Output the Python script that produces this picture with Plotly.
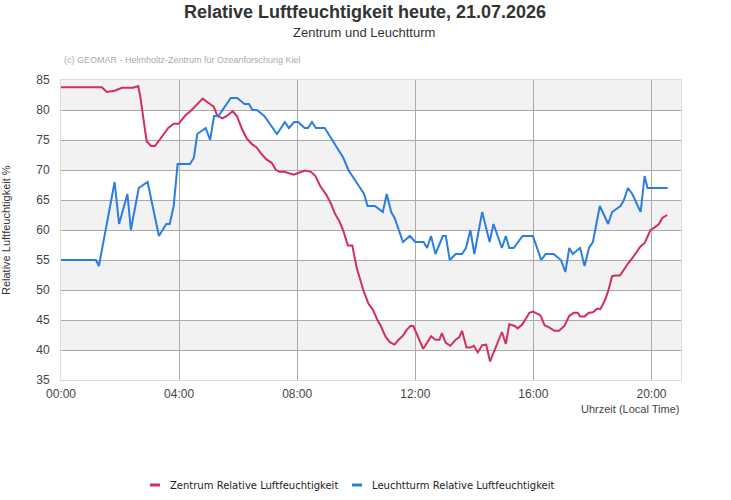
import plotly.graph_objects as go

DAY = "2026-07-21"

# Zentrum Relative Luftfeuchtigkeit (time HH:MM, value %)
zentrum_time = ["00:00","01:23","01:33","01:49","02:04","02:26","02:37","02:41","02:54","03:03",
                "03:11","03:20","03:28","03:38","03:49","03:59","04:05","04:14","04:22","04:36",
                "04:48","04:59","05:10","05:18","05:28","05:37","05:49","05:58","06:07","06:17",
                "06:28","06:37","06:46","06:57","07:08","07:17","07:24","07:34","07:43","07:53",
                "08:02","08:16","08:28","08:37","08:47","08:59","09:08","09:17","09:26","09:34",
                "09:43","09:52","10:01","10:15","10:25","10:34","10:43","10:50","10:59","11:08",
                "11:18","11:26","11:35","11:43","11:50","11:56","12:05","12:16","12:24","12:32",
                "12:41","12:49","12:54","13:02","13:11","13:22","13:29","13:35","13:44","13:52",
                "13:59","14:07","14:16","14:24","14:32","14:56","15:04","15:11","15:22","15:28",
                "15:37","15:52","15:59","16:14","16:23","16:31","16:43","16:52","17:03","17:13",
                "17:22","17:30","17:35","17:44","17:53","18:01","18:10","18:16","18:25","18:32",
                "18:40","18:47","18:56","19:04","19:13","19:21","19:29","19:38","19:46","19:52",
                "19:58","20:06","20:15","20:22","20:32"]
zentrum_val = [83.8,83.8,83.0,83.2,83.7,83.7,84.0,82.3,74.8,74.0,
               74.0,75.0,75.8,77.0,77.7,77.7,78.3,79.2,79.7,80.9,
               81.9,81.2,80.6,79.0,78.6,79.0,79.8,78.9,77.0,75.3,
               74.3,73.8,72.8,71.8,71.2,70.0,69.7,69.7,69.4,69.2,
               69.5,69.9,69.7,69.0,67.3,65.9,64.5,62.7,61.4,59.8,
               57.4,57.4,53.7,49.8,47.7,46.7,45.0,44.0,42.3,41.3,
               40.9,41.7,42.4,43.4,44.0,44.0,42.3,40.2,41.2,42.3,
               41.7,41.7,42.8,41.2,40.7,41.7,42.1,43.2,40.4,40.4,
               40.7,39.6,40.8,40.9,38.1,43.0,41.0,44.3,44.0,43.6,
               44.2,46.2,46.4,45.8,44.1,43.8,43.2,43.2,44.0,45.7,
               46.2,46.2,45.6,45.6,46.2,46.3,46.9,46.8,48.2,49.8,
               52.3,52.4,52.4,53.5,54.5,55.3,56.3,57.3,57.8,59.0,
               60.0,60.4,61.0,62.0,62.5]

# Leuchtturm Relative Luftfeuchtigkeit
leucht_time = ["00:00","01:11","01:17","01:49","01:58","02:15","02:22","02:38","02:56","03:19",
               "03:34","03:41","03:49","03:57","04:22","04:30","04:37","04:54","05:03","05:11",
               "05:20","05:45","05:58","06:13","06:22","06:29","06:38","06:53","07:19","07:35",
               "07:43","07:54","08:02","08:15","08:22","08:30","08:38","08:56","09:34","09:44",
               "10:08","10:16","10:23","10:38","10:54","11:02","11:11","11:18","11:35","11:49",
               "12:00","12:17","12:24","12:32","12:41","12:56","13:02","13:10","13:22","13:35",
               "13:43","13:52","14:00","14:16","14:31","14:39","14:56","15:04","15:11","15:20",
               "15:38","15:59","16:16","16:25","16:41","16:56","17:05","17:13","17:20","17:35",
               "17:44","17:53","18:01","18:15","18:32","18:40","18:57","19:04","19:12","19:21",
               "19:38","19:46","19:52","20:33"]
leucht_val = [55,55,54,68,61,66,60,67,68,59,
              61,61,64,71,71,72,76,77,75,79,
              79,82,82,81,81,80,80,79,76,78,
              77,78,78,77,77,78,77,77,72,70,
              67,66,64,64,63,66,63,62,58,59,
              58,58,57,59,56,59,59,55,56,56,
              57,60,56,63,58,61,57,59,57,57,
              59,59,55,56,56,55,53,57,56,57,
              54,57,58,64,61,63,64,65,67,66,
              63,69,67,67]

y_ticks = [35, 40, 45, 50, 55, 60, 65, 70, 75, 80, 85]
x_tick_hours = ["00:00", "04:00", "08:00", "12:00", "16:00", "20:00"]
band_ranges = [(40, 45), (50, 55), (60, 65), (70, 75), (80, 85)]

series = [
    ("Zentrum Relative Luftfeuchtigkeit", zentrum_time, zentrum_val, "#d42e5b"),
    ("Leuchtturm Relative Luftfeuchtigkeit", leucht_time, leucht_val, "#2b7ddf"),
]

FONT = "Liberation Sans, Arial, sans-serif"
fig = go.Figure()
for name, t, v, c in series:
    fig.add_trace(go.Scatter(
        x=[f"{DAY} {s}" for s in t], y=v, mode="lines", name=name,
        line=dict(color=c, width=2), showlegend=False))

shapes = []
for y0, y1 in band_ranges:
    shapes.append(dict(type="rect", xref="paper", yref="y", x0=0, x1=1, y0=y0, y1=y1,
                       fillcolor="#f2f2f2", line=dict(width=0), layer="below"))

annotations = [
    dict(text="Zentrum und Leuchtturm", xref="paper", yref="paper", x=0.4887, y=(380-33)/300,
         showarrow=False, font=dict(family=FONT, size=13, color="#333"), xanchor="center", yanchor="middle"),
    dict(text="(c) GEOMAR - Helmholtz-Zentrum für Ozeanforschung Kiel", xref="paper", yref="paper",
         x=0.002, y=(380-60)/300, showarrow=False, font=dict(family=FONT, size=9, color="#aaaaaa"),
         xanchor="left", yanchor="middle"),
    dict(text="Relative Luftfeuchtigkeit %", xref="paper", yref="paper", x=(6-61)/620, y=0.5,
         textangle=-90, showarrow=False, font=dict(family=FONT, size=11, color="#333"),
         xanchor="center", yanchor="middle"),
    dict(text="Uhrzeit (Local Time)", xref="paper", yref="paper", x=1, y=(380-409)/300,
         showarrow=False, font=dict(family=FONT, size=11, color="#444"), xanchor="right", yanchor="middle"),
]

# custom legend
leg_y = (380-485)/300
leg_items = [((150-61)/620, (160-61)/620, (168-61)/620), ((352-61)/620, (362-61)/620, (370-61)/620)]
for (name, t, v, c), (lx0, lx1, tx) in zip(series, leg_items):
    shapes.append(dict(type="line", xref="paper", yref="paper", x0=lx0, x1=lx1, y0=leg_y, y1=leg_y,
                       line=dict(color=c, width=3)))
    annotations.append(dict(text=name, xref="paper", yref="paper", x=tx, y=leg_y, showarrow=False,
                            font=dict(family="DejaVu Sans, sans-serif", size=10, color="#222"),
                            xanchor="left", yanchor="middle"))

fig.update_layout(
    width=731, height=500,
    margin=dict(l=61, r=50, t=80, b=120),
    paper_bgcolor="white", plot_bgcolor="white",
    title=dict(text="<b>Relative Luftfeuchtigkeit heute, 21.07.2026</b>", x=0.4993, xanchor="center",
               y=1 - 12/500, yanchor="middle", font=dict(family=FONT, size=18, color="#333")),
    shapes=shapes, annotations=annotations,
    xaxis=dict(type="date", range=[f"{DAY} 00:00", f"{DAY} 21:00"],
               tickvals=[f"{DAY} {h}" for h in x_tick_hours], ticktext=x_tick_hours,
               showgrid=True, gridcolor="#aaaaaa", gridwidth=1,
               showline=True, mirror=True, linecolor="#dddddd", linewidth=1,
               tickfont=dict(family=FONT, size=12, color="#444"), ticks="", ticklabelstandoff=3,
               zeroline=False),
    yaxis=dict(range=[35, 85], tickvals=y_ticks,
               showgrid=True, gridcolor="#aaaaaa", gridwidth=1,
               showline=True, mirror=True, linecolor="#dddddd", linewidth=1,
               tickfont=dict(family=FONT, size=12, color="#444"), ticks="", ticklabelstandoff=8,
               zeroline=False),
)

fig.write_html("out.html")
